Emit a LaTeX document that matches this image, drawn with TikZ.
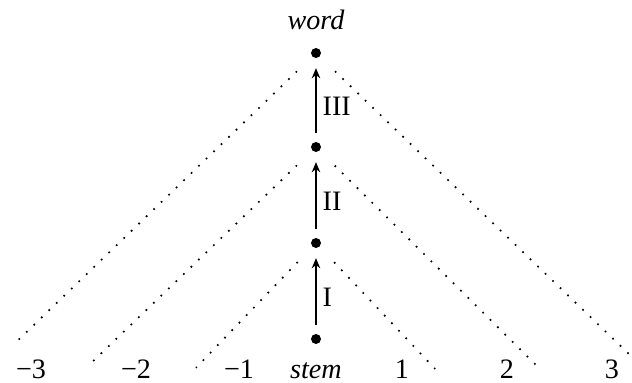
\documentclass[tikz,border=0pt]{standalone}
\usepackage{fontspec}
\setmainfont{Liberation Serif}
\usetikzlibrary{arrows.meta,positioning}

\begin{document}
\begin{tikzpicture}[
  dot/.style={circle, fill, inner sep=0pt, minimum size=0.125cm},
  dotline/.style={line width=0.6pt, dash pattern=on 0.6pt off 3.1pt, shorten <=0.26cm},
  step arrow/.style={thick, -{Stealth[length=3.6pt,width=3pt]}, shorten <=0.11cm, shorten >=0.12cm},
  lvl/.style={anchor=base}
]
\useasboundingbox (-3.95,-0.55) rectangle (3.95,4.2375);
% levels
\node[dot] (d0) at (0,0) {};
\node[dot] (d1) at (0,1.2) {};
\node[dot] (d2) at (0,2.4) {};
\node[dot] (d3) at (0,3.575) {};
\node (word) at (0,3.99) {\textit{word}};
% bottom row
\node[lvl] (stem) at (0,-0.49) {\textit{stem}};
\node[lvl] (m3) at (-3.5625,-0.49) {−3};
\node[lvl] (m2) at (-2.25,-0.49) {−2};
\node[lvl] (m1) at (-0.9625,-0.49) {−1};
\node[lvl] (p1) at (1.075,-0.49) {1};
\node[lvl] (p2) at (2.3875,-0.49) {2};
\node[lvl] (p3) at (3.7,-0.49) {3};
% arrows
\draw[step arrow] (d0) -- (d1) node[right, pos=0.42, inner sep=2pt] {I};
\draw[step arrow] (d1) -- (d2) node[right, pos=0.42, inner sep=2pt] {II};
\draw[step arrow] (d2) -- (d3) node[right, pos=0.42, inner sep=2pt] {III};
% dotted cones
\coordinate (e1l) at (-1.5,-0.36);
\coordinate (e1r) at (1.49,-0.375);
\coordinate (e2l) at (-2.8,-0.29);
\coordinate (e2r) at (2.8,-0.375);
\coordinate (e3l) at (-3.75,-0.04);
\coordinate (e3r) at (3.925,-0.2);
\draw[dotline] (d1) -- (e1l);
\draw[dotline] (d1) -- (e1r);
\draw[dotline] (d2) -- (e2l);
\draw[dotline] (d2) -- (e2r);
\draw[dotline] (d3) -- (e3l);
\draw[dotline] (d3) -- (e3r);
\end{tikzpicture}
\end{document}
